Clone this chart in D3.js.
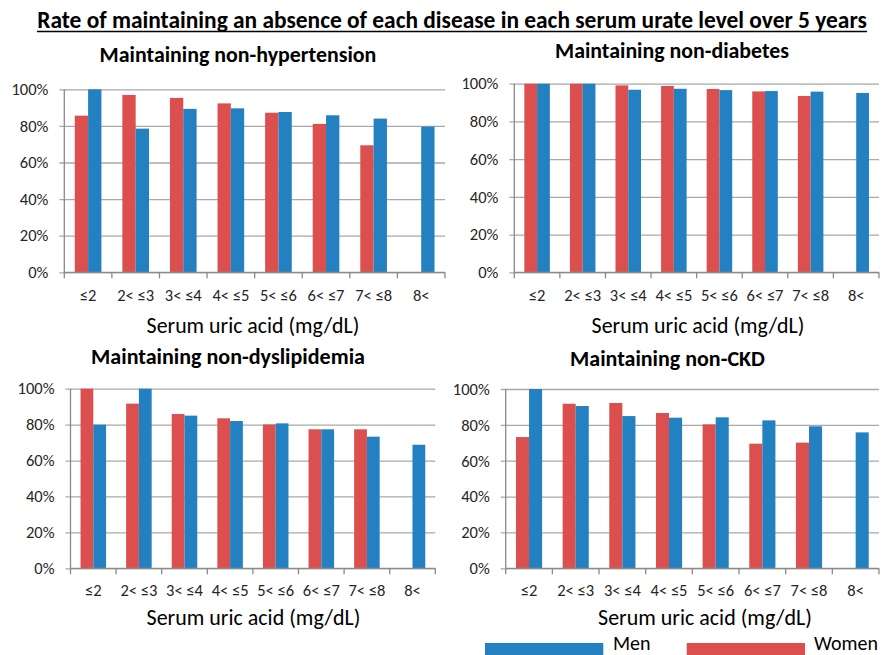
<!DOCTYPE html>
<html><head><meta charset="utf-8">
<script src="https://cdn.jsdelivr.net/npm/d3@7"></script>
<style>
html,body{margin:0;padding:0;background:#fff;}
svg{display:block;font-family:Carlito,Lato,"Open Sans",sans-serif;}
</style></head>
<body><svg id="chart" width="884" height="655"></svg>
<script>
// ---- data ----
const categories = ["≤2","2< ≤3","3< ≤4","4< ≤5","5< ≤6","6< ≤7","7< ≤8","8<"];
const seriesNames = ["Women","Men"];
const hypertensionWomen = [85.6,96.9,95.3,92.3,87.2,81.1,69.4,null];
const hypertensionMen   = [100,78.5,89.3,89.6,87.6,85.8,84.0,79.6];
const diabetesWomen     = [100,100,99.1,98.8,97.2,95.9,93.5,null];
const diabetesMen       = [100,100,96.8,97.3,96.6,96.1,95.8,95.1];
const dyslipidemiaWomen = [100,91.7,85.9,83.5,80.1,77.4,77.4,null];
const dyslipidemiaMen   = [80.0,100,85.0,82.0,80.7,77.4,73.3,68.8];
const ckdWomen          = [73.2,91.8,92.2,86.6,80.3,69.5,70.1,null];
const ckdMen            = [100,90.5,84.9,84.0,84.2,82.5,79.2,75.8];
const yTickValues = [0,20,40,60,80,100];
const panelTitles = ["Maintaining non-hypertension","Maintaining non-diabetes","Maintaining non-dyslipidemia","Maintaining non-CKD"];
const xAxisTitle = "Serum uric acid (mg/dL)";
const mainTitle = "Rate of maintaining an absence of each disease in each serum urate level over 5 years";

const FONT = 'Carlito, Lato, "Open Sans", sans-serif';
const colors = {Women:"#dc4f4f", Men:"#2381c2"};
const gridColor = "#a9a9a9";
const axisColor = "#8a8a8a";
const tickFs = 16.5;

const svg = d3.select("#chart");

function fitWidth(sel, target){
  const n = sel.node();
  const w = n.getComputedTextLength();
  const fs = parseFloat(sel.attr("font-size"));
  sel.attr("font-size", fs*target/w);
}

// main title
const mt = svg.append("text").attr("x",452).attr("y",28).attr("text-anchor","middle")
  .attr("font-weight","bold").attr("font-size",19).attr("fill","#000").text(mainTitle);
fitWidth(mt, 830);
svg.append("line").attr("x1",37).attr("x2",867).attr("y1",31.5).attr("y2",31.5)
  .attr("stroke","#000").attr("stroke-width",1.6);

const panels = [
  {women:hypertensionWomen, men:hypertensionMen, title:panelTitles[0],
   x0:64.3, x1:445, yTop:89.3, y0:272.3, tx:238, ty:61.5, tw:277, lblDy:29, axT:{x:253,y:332.7,w:213}},
  {women:diabetesWomen, men:diabetesMen, title:panelTitles[1],
   x0:514.3, x1:879, yTop:83.7, y0:272.3, tx:672, ty:58, tw:234, lblDy:29, axT:{x:698,y:333,w:213}},
  {women:dyslipidemiaWomen, men:dyslipidemiaMen, title:panelTitles[2],
   x0:70.5, x1:435.3, yTop:388.7, y0:568.3, tx:228, ty:364, tw:274, lblDy:28, axT:{x:253.5,y:624.5,w:214}},
  {women:ckdWomen, men:ckdMen, title:panelTitles[3],
   x0:505.7, x1:879, yTop:389, y0:568.3, tx:667.5, ty:365.5, tw:195, lblDy:28, axT:{x:705,y:624.5,w:214}}
];

panels.forEach(p => {
  const g = svg.append("g");
  const x = d3.scaleBand().domain(categories).range([p.x0,p.x1]).paddingInner(0.44).paddingOuter(0.22);
  const xs = d3.scaleBand().domain(seriesNames).range([0,x.bandwidth()]);
  const y = d3.scaleLinear().domain([0,100]).range([p.y0,p.yTop]);

  // y axis with gridlines
  const ya = g.append("g").attr("transform",`translate(${p.x0-5},0)`)
    .call(d3.axisLeft(y).tickValues(yTickValues).tickFormat(d=>d+"%")
      .tickSize(-(p.x1-p.x0+5)).tickPadding(11));
  ya.attr("font-family",FONT).attr("font-size",tickFs);
  ya.select(".domain").remove();
  ya.selectAll(".tick line").attr("stroke",gridColor).attr("stroke-width",1.3);
  ya.selectAll(".tick text").attr("fill","#262626");

  // bars
  const rows = categories.map((c,i)=>({cat:c, Women:p.women[i], Men:p.men[i]}));
  const grp = g.append("g").selectAll("g").data(rows).join("g")
    .attr("transform",d=>`translate(${x(d.cat)},0)`);
  grp.selectAll("rect").data(d=>seriesNames.filter(s=>d[s]!=null).map(s=>({s, v:d[s]})))
    .join("rect")
    .attr("x",d=>xs(d.s)).attr("width",xs.bandwidth())
    .attr("y",d=>y(d.v)).attr("height",d=>y(0)-y(d.v))
    .attr("fill",d=>colors[d.s]);

  // vertical y axis line
  g.append("line").attr("x1",p.x0).attr("x2",p.x0).attr("y1",y(100)).attr("y2",y(0))
    .attr("stroke",axisColor).attr("stroke-width",1.3);

  // x axis
  const xa = g.append("g").attr("transform",`translate(0,${p.y0})`)
    .call(d3.axisBottom(x).tickSize(0).tickPadding(p.lblDy-0.71*tickFs));
  xa.attr("font-family",FONT).attr("font-size",tickFs);
  xa.select(".domain").attr("stroke",axisColor).attr("stroke-width",1.3)
    .attr("d",`M${p.x0},0H${p.x1}`);
  xa.selectAll(".tick text").attr("fill","#262626");
  // boundary ticks
  const bounds = d3.range(categories.length+1).map(i=>p.x0 + i*x.step());
  xa.selectAll("line.bnd").data(bounds).join("line").attr("class","bnd")
    .attr("x1",d=>d).attr("x2",d=>d).attr("y1",0).attr("y2",6)
    .attr("stroke",axisColor).attr("stroke-width",1.3);

  // titles
  const t = g.append("text").attr("x",p.tx).attr("y",p.ty).attr("text-anchor","middle")
    .attr("font-weight","bold").attr("font-size",18).attr("fill","#000").text(p.title);
  fitWidth(t, p.tw);
  const at = g.append("text").attr("x",p.axT.x).attr("y",p.axT.y).attr("text-anchor","middle")
    .attr("font-size",20).attr("fill","#000").text(xAxisTitle);
  fitWidth(at, p.axT.w);
});

// legend
const legendItems = [{name:"Men", x:485, tx:613},{name:"Women", x:686.7, tx:814}];
const lg = svg.append("g");
lg.selectAll("rect").data(legendItems).join("rect")
  .attr("x",d=>d.x).attr("y",643).attr("width",118.3).attr("height",14)
  .attr("fill",d=>colors[d.name]);
lg.selectAll("text").data(legendItems).join("text")
  .attr("x",d=>d.tx).attr("y",650).attr("font-size",20).attr("fill","#000").text(d=>d.name);
</script></body></html>
